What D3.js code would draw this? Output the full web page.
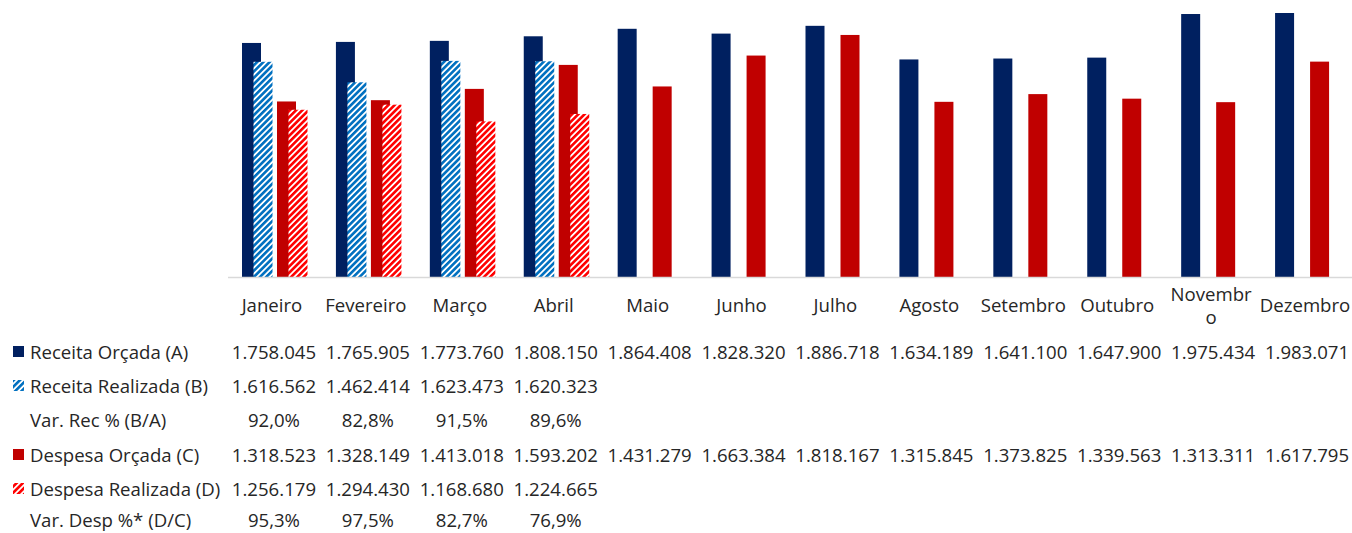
<!DOCTYPE html>
<html>
<head>
<meta charset="utf-8">
<script src="https://cdn.jsdelivr.net/npm/d3@7"></script>
<style>
  body { margin: 0; background: #fff; }
  svg { display: block; font-family: "Open Sans", sans-serif; }
</style>
</head>
<body>
<div id="chart"></div>
<script>
// months
var meses = ["Janeiro", "Fevereiro", "Março", "Abril", "Maio", "Junho",
    "Julho", "Agosto", "Setembro", "Outubro", "Novembro", "Dezembro"];

var receitaOrcada = [1758045, 1765905, 1773760, 1808150, 1864408, 1828320,
    1886718, 1634189, 1641100, 1647900, 1975434, 1983071];
var receitaRealizada = [1616562, 1462414, 1623473, 1620323];
var varRec = [92.0, 82.8, 91.5, 89.6];
var despesaOrcada = [1318523, 1328149, 1413018, 1593202, 1431279, 1663384,
    1818167, 1315845, 1373825, 1339563, 1313311, 1617795];
var despesaRealizada = [1256179, 1294430, 1168680, 1224665];
var varDesp = [95.3, 97.5, 82.7, 76.9];

var rowLabels = ["Receita Orçada (A)", "Receita Realizada (B)", "Var. Rec % (B/A)",
    "Despesa Orçada (C)", "Despesa Realizada (D)", "Var. Desp %* (D/C)"];

var W = 1352, H = 533;
var navy = "#002060", blue = "#0070c0", darkRed = "#c00000", red = "#ff0000";
var textColor = "#262626";
var fontSize = 18.6;

var ptBR = d3.formatLocale({ decimal: ",", thousands: ".", grouping: [3], currency: ["R$", ""] });
var fmtNum = ptBR.format(",d");
var fmtPct = function(v){ return ptBR.format(".1f")(v) + "%"; };

var svg = d3.select("#chart").append("svg")
    .attr("width", W)
    .attr("height", H);

// hatch patterns
var defs = svg.append("defs");
function makeHatch(id, color){
    var p = defs.append("pattern")
        .attr("id", id)
        .attr("patternUnits", "userSpaceOnUse")
        .attr("width", 4.4)
        .attr("height", 4.4)
        .attr("patternTransform", "rotate(45)");
    p.append("rect").attr("width", 4.4).attr("height", 4.4).attr("fill", "#fff");
    p.append("rect").attr("x", 0).attr("y", 0).attr("width", 2.6).attr("height", 4.4).attr("fill", color);
}
makeHatch("hatchBlue", blue);
makeHatch("hatchRed", red);

var x = d3.scaleBand()
    .domain(meses)
    .range([225, W]);

// two groups inside each month
var xGroup = d3.scaleBand()
    .domain(["receita", "despesa"])
    .range([17, 87]);

var barW = 19, shift = 11.5;

var y = d3.scaleLinear()
    .domain([0, d3.max(receitaOrcada)])
    .range([277, 13]);

var series = [
    { values: receitaOrcada, group: "receita", dx: 0, fill: navy },
    { values: receitaRealizada, group: "receita", dx: shift, fill: "url(#hatchBlue)" },
    { values: despesaOrcada, group: "despesa", dx: 0, fill: darkRed },
    { values: despesaRealizada, group: "despesa", dx: shift, fill: "url(#hatchRed)" }
];

series.forEach(function(s){
    svg.append("g")
        .selectAll("rect")
        .data(s.values)
        .join("rect")
        .attr("x", function(d, i){ return x(meses[i]) + xGroup(s.group) + s.dx; })
        .attr("y", function(d){ return y(d); })
        .attr("width", barW)
        .attr("height", function(d){ return y(0) - y(d); })
        .attr("fill", s.fill);
});

// baseline
svg.append("line")
    .attr("x1", 228).attr("x2", W)
    .attr("y1", y(0) + 0.5).attr("y2", y(0) + 0.5)
    .attr("stroke", "#d9d9d9")
    .attr("stroke-width", 1.5);

// month labels (Novembro wraps like in the original)
var monthLabels = svg.append("g")
    .attr("font-size", fontSize)
    .attr("fill", textColor)
    .attr("text-anchor", "middle");

meses.forEach(function(m){
    var cx = x(m) + x.bandwidth() / 2;
    var t = monthLabels.append("text").attr("x", cx);
    if (m === "Novembro") {
        t.append("tspan").attr("x", cx).attr("y", 301).text("Novembr");
        t.append("tspan").attr("x", cx).attr("y", 324).text("o");
    } else {
        t.attr("y", 312).text(m);
    }
});

// data table
var rowY = [352, 386, 420.5, 455, 489, 520];
var rows = [
    { values: receitaOrcada, fmt: fmtNum, key: navy },
    { values: receitaRealizada, fmt: fmtNum, key: "url(#hatchBlue)" },
    { values: varRec, fmt: fmtPct, key: null },
    { values: despesaOrcada, fmt: fmtNum, key: darkRed },
    { values: despesaRealizada, fmt: fmtNum, key: "url(#hatchRed)" },
    { values: varDesp, fmt: fmtPct, key: null }
];

var table = svg.append("g")
    .attr("font-size", fontSize)
    .attr("fill", textColor);

rows.forEach(function(r, ri){
    var ry = rowY[ri];
    if (r.key) {
        table.append("rect")
            .attr("x", 13).attr("y", ry - 6)
            .attr("width", 11).attr("height", 11)
            .attr("fill", r.key);
    }
    table.append("text")
        .attr("x", 30).attr("y", ry)
        .attr("dy", "0.35em")
        .text(rowLabels[ri]);

    table.append("g")
        .selectAll("text")
        .data(r.values)
        .join("text")
        .attr("x", function(d, i){ return x(meses[i]) + x.bandwidth() / 2 + 2; })
        .attr("y", ry)
        .attr("dy", "0.35em")
        .attr("text-anchor", "middle")
        .text(function(d){ return r.fmt(d); });
});
</script>
</body>
</html>
